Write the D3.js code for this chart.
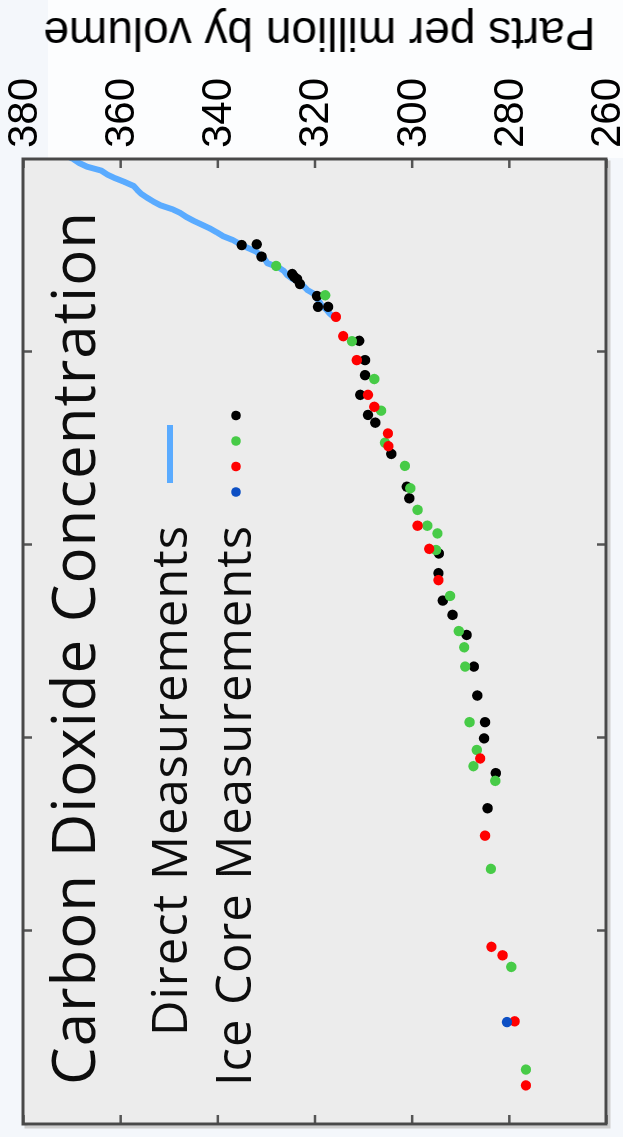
<!DOCTYPE html>
<html>
<head>
<meta charset="utf-8">
<script src="https://cdn.jsdelivr.net/npm/d3@7"></script>
<style>
html, body { margin: 0; padding: 0; background: #f4f7fb; }
svg { display: block; }
</style>
</head>
<body>
<div id="chart"></div>
<script>
//=====================DATA=====================

// [year, ppm] : Mauna Loa style annual means
const directMeasurements = [
	[1959,316.0],[1960,316.9],[1961,317.6],[1962,318.5],[1963,319.0],[1964,319.6],
	[1965,320.0],[1966,321.4],[1967,322.2],[1968,323.0],[1969,324.6],[1970,325.7],
	[1971,326.3],[1972,327.5],[1973,329.7],[1974,330.2],[1975,331.1],[1976,332.0],
	[1977,333.8],[1978,335.4],[1979,336.8],[1980,338.8],[1981,340.1],[1982,341.5],
	[1983,343.2],[1984,344.9],[1985,346.4],[1986,347.6],[1987,349.3],[1988,351.7],
	[1989,353.2],[1990,354.5],[1991,355.7],[1992,356.5],[1993,357.2],[1994,359.0],
	[1995,361.0],[1996,362.7],[1997,363.9],[1998,366.8],[1999,368.5],[2000,369.7],
	[2001,371.3]
]

// ice core records, one array per marker colour
const iceCoreBlack = [
	[1977.7,335.0],[1977.9,331.9],[1974.7,330.9],[1970.2,324.6],[1969.5,324.2],[1968.9,323.6],
	[1967.6,323.0],[1964.5,319.5],[1961.7,319.3],[1961.7,317.2],[1952.9,310.8],[1947.9,309.6],
	[1944.0,309.6],[1938.9,310.6],[1933.7,309.0],[1931.7,307.5],[1923.6,304.2],[1915.1,301.0],
	[1912.1,300.5],[1897.8,294.4],[1892.7,294.5],[1885.6,293.6],[1881.9,291.6],[1876.7,288.7],
	[1868.5,287.2],[1861.0,286.5],[1854.1,284.9],[1849.9,285.1],[1840.9,282.7],[1831.8,284.4]
]

const iceCoreGreen = [
	[1972.3,327.9],[1964.7,317.8],[1952.8,312.3],[1943.0,307.7],[1934.8,306.3],[1926.5,305.5],
	[1920.5,301.4],[1914.7,300.3],[1909.1,298.8],[1905.0,296.8],[1903.0,294.7],[1898.7,295.0],
	[1886.8,292.1],[1877.7,290.3],[1873.5,289.2],[1868.5,289.0],[1854.1,288.1],[1846.9,286.6],
	[1842.7,287.3],[1838.9,282.8],[1816.1,283.7],[1790.7,279.5],[1764.1,276.5]
]

const iceCoreRed = [
	[1959.1,315.6],[1954.1,314.1],[1947.9,311.3],[1938.9,309.0],[1935.8,307.7],[1928.9,304.9],
	[1925.6,304.8],[1905.0,298.8],[1899.0,296.4],[1890.9,294.5],[1844.7,285.9],[1824.7,284.9],
	[1795.9,283.6],[1793.7,281.3],[1776.6,278.8],[1760.0,276.5]
]

const iceCoreBlue = [
	[1776.4,280.4]
]

const ppmTicks = [260, 280, 300, 320, 340, 360, 380]
const yearTicks = [1800, 1850, 1900, 1950]

const titleText = 'Carbon Dioxide Concentration'
const directLabel = 'Direct Measurements'
const iceLabel = 'Ice Core Measurements'
const yLabel = 'Parts per million by volume'

//=====================STRUCTURE=====================

const width = 623
const height = 1137

// chart is laid out as a normal landscape chart (years across, ppm up)
// then the whole group is turned a quarter turn anticlockwise
const frame = {left:13, right:978, top:23, bottom:606}

const x = d3.scaleLinear().domain([1750, 2000]).range([frame.left, frame.right])
const y = d3.scaleLinear().domain([260, 380]).range([frame.bottom, frame.top])

const svg = d3.select('#chart')
.append('svg')
.attr('width', width)
.attr('height', height)

const defs = svg.append('defs')

defs.append('filter')
.attr('id', 'soft')
.append('feGaussianBlur')
.attr('stdDeviation', 0.55)

defs.append('clipPath')
.attr('id', 'plot-clip')
.append('rect')
.attr('x', frame.left)
.attr('y', frame.top)
.attr('width', frame.right - frame.left)
.attr('height', frame.bottom - frame.top)

// paler band behind the tick labels
svg.append('rect')
.attr('x', 48).attr('y', 0)
.attr('width', width - 48).attr('height', 158)
.attr('fill', '#fcfdfe')

const g = svg.append('g')
.attr('transform', `translate(0,${height}) rotate(-90)`)
.attr('filter', 'url(#soft)')

// frame shadow + background
g.append('rect')
.attr('x', frame.left - 3)
.attr('y', frame.top + 3)
.attr('width', frame.right - frame.left)
.attr('height', frame.bottom - frame.top)
.attr('fill', 'none')
.attr('stroke', '#cfcfcf')
.attr('stroke-width', 3)

g.append('rect')
.attr('x', frame.left)
.attr('y', frame.top)
.attr('width', frame.right - frame.left)
.attr('height', frame.bottom - frame.top)
.attr('fill', '#ececec')

//=====================AXES=====================

const styleAxis = (sel) => {
	sel.select('.domain').remove()
	sel.selectAll('.tick line').attr('stroke', '#555').attr('stroke-width', 2.5)
}

// ppm axis with labels (right side of the landscape chart)
g.append('g')
.attr('transform', `translate(${frame.right},0)`)
.call(d3.axisRight(y).tickValues(ppmTicks).tickSizeInner(-9).tickSizeOuter(0).tickPadding(11))
.call(styleAxis)
.call(a => a.selectAll('text')
	.attr('font-family', '"Liberation Sans", Arial, sans-serif')
	.attr('font-size', 42)
	.attr('fill', '#000'))

g.append('g')
.attr('transform', `translate(${frame.left},0)`)
.call(d3.axisLeft(y).tickValues(ppmTicks).tickSizeInner(-9).tickSizeOuter(0).tickFormat(''))
.call(styleAxis)

g.append('g')
.attr('transform', `translate(0,${frame.bottom})`)
.call(d3.axisBottom(x).tickValues(yearTicks).tickSizeInner(-9).tickSizeOuter(0).tickFormat(''))
.call(styleAxis)

g.append('g')
.attr('transform', `translate(0,${frame.top})`)
.call(d3.axisTop(x).tickValues(yearTicks).tickSizeInner(-9).tickSizeOuter(0).tickFormat(''))
.call(styleAxis)

g.append('text')
.attr('transform', `translate(1119,${(frame.top + frame.bottom) / 2 + 5}) rotate(-90)`)
.attr('text-anchor', 'middle')
.attr('font-family', '"Liberation Sans", Arial, sans-serif')
.attr('font-size', 46)
.attr('fill', '#000')
.text(yLabel)

//=====================MARKS=====================

const plot = g.append('g').attr('clip-path', 'url(#plot-clip)')

const line = d3.line()
.x(d => x(d[0]))
.y(d => y(d[1]))

plot.append('path')
.datum(directMeasurements)
.attr('d', line)
.attr('fill', 'none')
.attr('stroke', '#5aabff')
.attr('stroke-width', 6)
.attr('stroke-linejoin', 'round')

const iceSeries = [
	{data: iceCoreBlack, colour: '#000000'},
	{data: iceCoreGreen, colour: '#46cb46'},
	{data: iceCoreRed, colour: '#ff0000'},
	{data: iceCoreBlue, colour: '#0a4fc4'}
]

iceSeries.forEach(s => {
	plot.append('g')
	.selectAll('circle')
	.data(s.data)
	.enter()
	.append('circle')
	.attr('cx', d => x(d[0]))
	.attr('cy', d => y(d[1]))
	.attr('r', 5.2)
	.attr('fill', s.colour)
})

// frame on top
g.append('rect')
.attr('x', frame.left)
.attr('y', frame.top)
.attr('width', frame.right - frame.left)
.attr('height', frame.bottom - frame.top)
.attr('fill', 'none')
.attr('stroke', '#4a4a4a')
.attr('stroke-width', 3)

//=====================TITLE + LEGEND=====================

const humanist = '"Open Sans", "Noto Sans", sans-serif'

g.append('text')
.attr('x', 52)
.attr('y', 95)
.attr('font-family', humanist)
.attr('font-size', 60)
.attr('textLength', 873)
.attr('lengthAdjust', 'spacing')
.attr('fill', '#111')
.text(titleText)

const legendEnd = 611

g.append('text')
.attr('x', legendEnd)
.attr('y', 187)
.attr('text-anchor', 'end')
.attr('font-family', humanist)
.attr('font-size', 49)
.attr('textLength', 510)
.attr('lengthAdjust', 'spacing')
.attr('fill', '#111')
.text(directLabel)

g.append('text')
.attr('x', legendEnd)
.attr('y', 251)
.attr('text-anchor', 'end')
.attr('font-family', humanist)
.attr('font-size', 49)
.attr('textLength', 560)
.attr('lengthAdjust', 'spacing')
.attr('fill', '#111')
.text(iceLabel)

g.append('line')
.attr('x1', legendEnd + 43).attr('x2', legendEnd + 101)
.attr('y1', 170).attr('y2', 170)
.attr('stroke', '#5aabff')
.attr('stroke-width', 6)

// legend dots, left to right: blue, red, green, black
iceSeries.slice().reverse().forEach((s, i) => {
	g.append('circle')
	.attr('cx', legendEnd + 34 + i * 25.5)
	.attr('cy', 236)
	.attr('r', 4.8)
	.attr('fill', s.colour)
})
</script>
</body>
</html>
